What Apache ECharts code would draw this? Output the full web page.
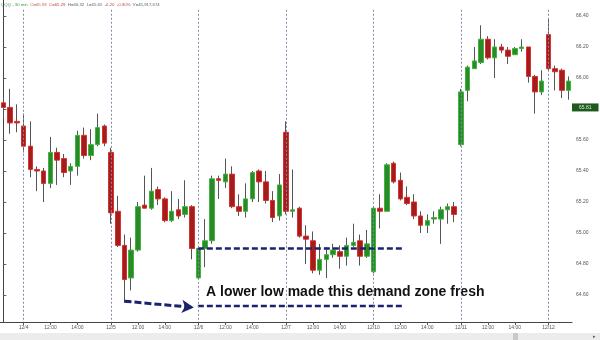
<!DOCTYPE html>
<html><head><meta charset="utf-8">
<script src="https://cdn.jsdelivr.net/npm/echarts@6/dist/echarts.min.js"></script>
<style>html,body{margin:0;padding:0;background:#fff}#c{width:600px;height:340px}</style>
</head><body><div id="c"></div>
<script>
// ---- categories (30-minute bars) ----
const priorDay = '12/3';
const priorTimes = ['15:00', '15:30', '16:00'];
const days = ['12/4', '12/5', '12/6', '12/7', '12/10', '12/11', '12/12'];
const sessionTimes = ['10:00','10:30','11:00','11:30','12:00','12:30','13:00','13:30','14:00','14:30','15:00','15:30','16:00'];
const lastDayBars = 4;
const labelTimes = ['10:00', '12:00', '14:00'];

// ---- OHLC values ----
const opens = [65.84,65.81,65.72,65.69,65.56,65.41,65.40,65.32,65.52,65.48,65.40,65.43,65.63,65.50,65.57,65.69,
  65.52,65.14,64.92,64.71,64.89,65.18,65.16,65.28,65.22,65.08,65.15,65.12,65.17,
  64.71,64.90,64.95,65.35,65.33,65.38,65.17,65.14,65.22,65.40,65.33,65.21,65.11,
  65.65,65.14,65.16,64.98,64.95,64.76,64.83,64.86,64.88,64.85,64.92,64.95,64.85,
  64.75,65.16,65.14,65.45,65.34,65.23,65.20,65.11,65.05,65.09,65.09,65.15,65.17,
  65.57,65.92,66.06,66.10,66.25,66.13,66.20,66.18,66.15,66.19,66.20,66.01,65.91,
  66.28,66.06,66.05,65.92];
const closes = [65.81,65.71,65.71,65.56,65.41,65.40,65.32,65.52,65.47,65.39,65.43,65.63,65.50,65.57,65.68,65.58,
  65.13,64.92,64.70,64.89,65.17,65.16,65.27,65.22,65.08,65.14,65.11,65.17,64.90,
  64.90,64.95,65.35,65.34,65.38,65.17,65.14,65.22,65.39,65.33,65.21,65.10,65.31,
  65.14,65.15,64.98,64.96,64.76,64.83,64.86,64.89,64.85,64.92,64.94,64.85,64.93,
  65.16,65.14,65.44,65.33,65.22,65.19,65.11,65.05,65.08,65.10,65.15,65.17,65.12,
  65.91,66.07,66.11,66.25,66.13,66.20,66.18,66.14,66.19,66.20,66.01,65.91,65.98,
  66.06,66.04,65.92,65.98];
const lows = [65.74,65.64,65.65,65.52,65.36,65.27,65.20,65.29,65.31,65.36,65.31,65.37,65.48,65.47,65.56,65.56,
  65.06,64.91,64.55,64.63,64.88,65.16,65.15,65.18,65.07,65.07,65.09,65.10,64.83,
  64.70,64.78,64.93,65.22,65.29,65.16,65.11,65.10,65.20,65.20,65.19,65.07,65.08,
  65.12,65.10,64.97,64.80,64.74,64.73,64.71,64.84,64.77,64.79,64.91,64.79,64.84,
  64.74,65.03,65.14,65.32,65.21,65.18,65.09,65.00,65.00,65.06,64.93,65.06,65.07,
  65.56,65.85,66.06,66.09,66.12,66.00,66.16,66.09,66.15,66.17,65.97,65.77,65.89,
  66.05,65.92,65.87,65.86];
const highs = [65.87,65.93,65.83,65.77,65.72,65.43,65.42,65.62,65.55,65.51,65.45,65.66,65.68,65.67,65.77,65.70,
  65.55,65.24,64.99,64.97,65.20,65.37,65.42,65.30,65.23,65.27,65.22,65.34,65.18,
  64.91,65.09,65.37,65.37,65.48,65.43,65.25,65.32,65.40,65.41,65.40,65.27,65.38,
  65.72,65.41,65.17,65.05,65.01,64.93,64.91,64.93,64.92,64.97,65.06,64.99,65.02,
  65.17,65.25,65.45,65.46,65.39,65.30,65.25,65.14,65.12,65.14,65.17,65.19,65.20,
  65.93,66.08,66.20,66.34,66.27,66.25,66.22,66.20,66.20,66.25,66.20,66.02,66.05,
  66.38,66.08,66.06,66.01];

// ---- axis ticks & annotations ----
const yTicks = [64.6, 64.8, 65.0, 65.2, 65.4, 65.6, 65.8, 66.0, 66.2, 66.4];
const yMin = 64.426, yMax = 66.503;
const lastPrice = 65.81;
const zoneTop = 64.90, zoneBottom = 64.53;
const zoneFrom = 28.9, zoneTo = 59.5;          // bar positions (index units)
const arrowFrom = [18.0, 64.56], arrowTo = [28.3, 64.52];
const dateLineTop = 66.44;
const headerItems = [
  ['QQQ - 30 min', 'g'], ['O=65.93', 'o'], ['C=65.29', 'r'], ['H=66.32', 'k'],
  ['L=65.65', 'k'], ['-0.20', 'r'], ['-0.30%', 'r'], ['V=45,917,674', 'k']
];
const noteText = 'A lower low made this demand zone fresh';

// ---- build tables ----
const cats = priorTimes.map(t => priorDay + ' ' + t);
days.forEach((d, k) => {
  const times = k === days.length - 1 ? sessionTimes.slice(0, lastDayBars) : sessionTimes;
  times.forEach(t => cats.push(d + ' ' + t));
});
const dayStartIdx = [];
cats.forEach((c, i) => { if (c.endsWith(' 10:00')) dayStartIdx.push(i); });
const ohlc = opens.map((o, i) => [o, closes[i], lows[i], highs[i]]);
const bodies = opens.map((o, i) => [o, closes[i], Math.min(o, closes[i]), Math.max(o, closes[i])]);
const showLabel = (idx) => { const t = cats[idx].split(' ')[1]; return !cats[idx].startsWith(priorDay) && labelTimes.indexOf(t) >= 0; };

const font = '"Liberation Sans", Arial, sans-serif';
const navy = '#1b2370';
const headerText = headerItems.map(h => '{' + h[1] + '|' + h[0] + '}').join('  ');
const chart = echarts.init(document.getElementById('c'));
chart.setOption({
  animation: false,
  backgroundColor: '#ffffff',
  grid: { left: -2, right: 28, top: 0, bottom: 18, containLabel: false },
  xAxis: [{
    type: 'category', data: cats, boundaryGap: true,
    axisLine: { lineStyle: { color: '#444', width: 1 } },
    axisTick: { show: true, alignWithLabel: true, length: 3, interval: (i) => showLabel(i), lineStyle: { color: '#555' } },
    axisLabel: { interval: (i) => showLabel(i), fontSize: 5, color: '#555', margin: 3, fontFamily: font,
      formatter: (v) => { const p = v.split(' '); return p[1] === '10:00' ? p[0] : p[1]; } },
    splitLine: { show: false }
  }, {
    type: 'value', min: -0.5, max: cats.length - 0.5, show: false
  }],
  yAxis: {
    type: 'value', position: 'right', min: yMin, max: yMax, scale: true,
    axisLine: { show: true, lineStyle: { color: '#444', width: 1 } },
    axisTick: { show: true, length: 3, customValues: yTicks, lineStyle: { color: '#666' } },
    axisLabel: { customValues: yTicks, fontSize: 5, color: '#555', margin: 4, fontFamily: font,
      formatter: (v) => v.toFixed(2) },
    splitLine: { show: false }
  },
  series: [{
    name: 'wicks', type: 'candlestick', data: ohlc, barWidth: 1, silent: true,
    itemStyle: { color: '#555', color0: '#555', borderColor: '#555', borderColor0: '#555', borderWidth: 1 }
  }, {
    name: 'QQQ', type: 'candlestick', data: bodies, barWidth: 5, silent: true,
    itemStyle: { color: '#2a8a2a', color0: '#a31d1d', borderColor: '#3fb53f', borderColor0: '#d93030', borderWidth: 1 },
    markLine: {
      silent: true, symbol: ['none', 'none'], animation: false,
      lineStyle: { color: 'rgba(0,0,0,0)', width: 1 },
      label: { show: true, position: 'end', distance: 0, formatter: lastPrice.toFixed(2), fontSize: 5, fontFamily: font,
        color: '#d8f0d8', backgroundColor: '#1e5a1e', padding: [1, 7, 1, 7], lineHeight: 6 },
      data: [{ yAxis: lastPrice }]
    }
  }, {
    name: 'zoneTop', type: 'line', xAxisIndex: 1, data: [[zoneFrom, zoneTop], [zoneTo, zoneTop]],
    symbol: 'none', silent: true, lineStyle: { color: navy, width: 2.5, type: [6, 3] },
    markLine: {
      silent: true, symbol: ['none', 'none'], animation: false, label: { show: false },
      lineStyle: { color: '#8088a6', width: 1, type: [2, 2] },
      data: dayStartIdx.map(i => [{ coord: [i, dateLineTop] }, { coord: [i, yMin] }])
    }
  }, {
    name: 'zoneBottom', type: 'line', xAxisIndex: 1, data: [[zoneFrom, zoneBottom], [zoneTo, zoneBottom]],
    symbol: 'none', silent: true, lineStyle: { color: navy, width: 2.5, type: [6, 3] },
    markLine: {
      silent: true, symbol: ['none', 'arrow'], symbolSize: [10, 12], animation: false, label: { show: false },
      lineStyle: { color: navy, width: 3, type: [7, 3] },
      data: [[{ coord: arrowFrom }, { coord: arrowTo }]]
    }
  }],
  graphic: [
    { type: 'text', x: 1, y: 5, silent: true,
      style: { text: headerText, fontSize: 4.3, fontFamily: font, verticalAlign: 'middle',
        rich: { g: { fill: '#3c9a3c', fontSize: 4.3 }, o: { fill: '#c85a4a', fontSize: 4.3 },
                r: { fill: '#c83a3a', fontSize: 4.3 }, k: { fill: '#5a6070', fontSize: 4.3 } } } },
    { type: 'text', x: 206, y: 292, silent: true,
      style: { text: noteText, fill: '#111', fontSize: 14, fontWeight: 'bold', fontFamily: font, verticalAlign: 'middle' } },
    { type: 'rect', silent: true, shape: { x: 0, y: 333, width: 600, height: 7 }, style: { fill: '#ececec' } },
    { type: 'rect', silent: true, shape: { x: 513, y: 333, width: 5, height: 7 }, style: { fill: '#c9c9c9' } },
    { type: 'text', x: 593, y: 337, silent: true, style: { text: '▸', fill: '#555', fontSize: 5, verticalAlign: 'middle' } }
  ]
});
</script></body></html>
